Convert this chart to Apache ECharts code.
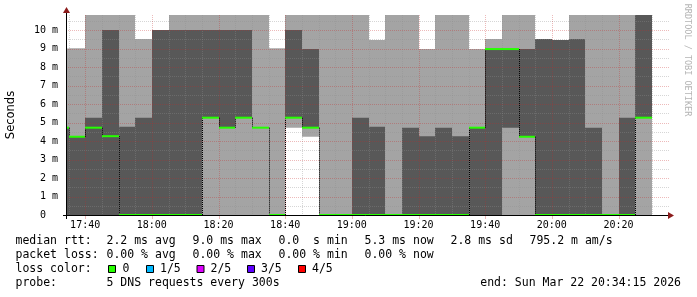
<!DOCTYPE html>
<html><head><meta charset="utf-8">
<script src="https://cdn.jsdelivr.net/npm/echarts@6/dist/echarts.min.js"></script>
<style>html,body{margin:0;padding:0;background:#fff}#c{width:697px;height:297px}</style>
</head><body><div id="c"></div>
<script>
// ---------------- data (minutes after 17:00, values in ms) ----------------
const OFF = 12; // off-scale (clipped at top of graph)
const binStartMin = [30,35,40,45,50,55,60,65,70,75,80,85,90,95,100,105,110,115,120,125,130,135,140,145,150,155,160,165,170,175,180,185,190,195,200,205];
const binLength = 5;
// five sorted ping values per bin (ms)
const ping1 = [0,0,0,0,0,0,0,0,0,0,0,0,0,0,4.72,4.23,0,0,0,0,0,0,0,0,0,0,0,0,0,0,0,0,0,0,0,0];
const ping2 = [0,0,0,0,0,0,0,0,0,5.26,4.72,5.26,4.72,0,5.26,4.72,0,0,0,0,0,0,0,0,0,0,0,4.72,4.23,0,0,0,0,0,0,5.26];
const ping3 = [4.72,4.23,4.72,4.26,0,0,0,0,0,5.26,4.72,5.26,4.72,0,5.26,4.72,0,0,0,0,0,0,0,0,0,4.72,8.97,8.97,4.23,0,0,0,0,0,0,5.26]; // median
const ping4 = [4.72,4.23,5.26,10,4.77,5.26,10,10,10,10,10,10,4.72,0,10,8.97,0,0,5.26,4.77,0,4.72,4.26,4.72,4.26,4.72,8.97,8.97,8.97,9.51,9.46,9.51,4.72,0,5.26,OFF];
const ping5 = [9.0,9.01,OFF,OFF,OFF,9.51,10,OFF,OFF,OFF,OFF,OFF,OFF,9.01,OFF,OFF,OFF,OFF,OFF,9.46,OFF,OFF,8.97,OFF,OFF,8.97,9.51,OFF,OFF,9.51,9.46,OFF,OFF,OFF,OFF,OFF];

const xTickMin = [40,60,80,100,120,140,160,180,200];
const xTickLabels = ['17:40','18:00','18:20','18:40','19:00','19:20','19:40','20:00','20:20'];
const xMinorMin = [35,45,50,55,65,70,75,85,90,95,105,110,115,125,130,135,145,150,155,165,170,175,185,190,195,205,210];
const yTicks = [0,1,2,3,4,5,6,7,8,9,10];
const yTickLabels = ['0  ','1 m','2 m','3 m','4 m','5 m','6 m','7 m','8 m','9 m','10 m'];
const yMinor = [0.5,1.5,2.5,3.5,4.5,5.5,6.5,7.5,8.5,9.5,10.5];

const statsRtt = ['median rtt:','2.2 ms avg','9.0 ms max','0.0  s min','5.3 ms now','2.8 ms sd','795.2 m am/s'];
const statsLoss = ['packet loss:','0.00 % avg','0.00 % max','0.00 % min','0.00 % now'];
const lossLabels = ['0','1/5','2/5','3/5','4/5'];
const lossColors = ['#26ff00','#00b8ff','#dd00ff','#5e00ff','#ff0000'];
const probeText = ['probe:','5 DNS requests every 300s'];
const endText = 'end: Sun Mar 22 20:34:15 2026';

// ---------------- layout / style ----------------
const X_MIN = 34.25, X_MAX = 214.25;
const Y_MAX = 200/18.5;
const LIGHT = '#a4a4a4', DARK = '#585858';
const MINOR = 'rgba(140,140,140,0.36)', MAJOR = 'rgba(200,40,40,0.32)';
const MONO = '"DejaVu Sans Mono", monospace';
const LFONT = '11.5px ' + MONO;

const smokeData = binStartMin.map((s,i)=>[s, s+binLength, ping1[i], ping2[i], ping3[i], ping4[i], ping5[i]]);

function binX(params, api){
  const cs = params.coordSys;
  const x0 = Math.round(api.coord([api.value(0),0])[0]);
  const x1 = Math.round(api.coord([api.value(1),0])[0]);
  return {x0, xl: Math.max(x0, cs.x), xr: Math.min(x1, cs.x+cs.width), cs};
}
const yv = (api, v) => api.coord([X_MIN, Math.min(v, Y_MAX)])[1];

function renderSmoke(params, api){
  const {xl, xr} = binX(params, api);
  if (xr <= xl) return {type:'group', children:[]};
  const yp1 = yv(api, api.value(2)), yp2 = yv(api, api.value(3)), yp4 = yv(api, api.value(5)), yp5 = yv(api, api.value(6));
  return {type:'group', children:[
    {type:'rect', shape:{x:xl, y:yp5, width:xr-xl, height:yp1-yp5}, style:{fill:LIGHT}},
    {type:'rect', shape:{x:xl, y:yp4, width:xr-xl, height:yp2-yp4}, style:{fill:DARK}}
  ]};
}
function renderMedian(params, api){
  const {x0, xl, xr, cs} = binX(params, api);
  if (xr <= xl) return {type:'group', children:[]};
  const i = params.dataIndex;
  const ym = yv(api, api.value(4));
  const ch = [];
  if (i > 0 && x0 >= cs.x) {
    const yprev = yv(api, ping3[i-1]);
    if (Math.abs(yprev - ym) > 0.5) ch.push({type:'line', shape:{x1:x0+0.5, y1:yprev, x2:x0+0.5, y2:ym}, style:{stroke:'#000', lineWidth:1, lineDash:[1,1]}});
  }
  ch.push({type:'rect', shape:{x:xl, y:ym-1, width:xr-xl, height:2}, style:{fill:lossColors[0]}});
  return {type:'group', children:ch};
}
function renderGrid(params, api){
  const cs = params.coordSys;
  const ch = [];
  const top = cs.y, bot = cs.y + cs.height, left = cs.x, right = cs.x + cs.width + 3;
  const vline = (m, col) => { const x = Math.round(api.coord([m,0])[0]) + 0.5;
    ch.push({type:'line', shape:{x1:x, y1:top, x2:x, y2:bot}, style:{stroke:col, lineWidth:1, lineDash:[1,1]}}); };
  const hline = (v, col) => { const y = Math.round(api.coord([X_MIN,v])[1]) + 0.5;
    ch.push({type:'line', shape:{x1:left, y1:y, x2:right, y2:y}, style:{stroke:col, lineWidth:1, lineDash:[1,1]}}); };
  xMinorMin.forEach(m => vline(m, MINOR));
  yMinor.forEach(v => hline(v, MINOR));
  xTickMin.forEach(m => vline(m, MAJOR));
  yTicks.forEach(v => { if (v > 0) hline(v, MAJOR); });
  xTickMin.forEach(m => { const x = Math.round(api.coord([m,0])[0]) + 0.5;
    ch.push({type:'line', shape:{x1:x, y1:bot, x2:x, y2:bot+4}, style:{stroke:MAJOR, lineWidth:1}}); });
  return {type:'group', children:ch};
}

// legend graphics
const g = [];
const rowY = [241, 255.3, 269.3, 283.5];
const rttX = [15.5,106.5,192.5,278.5,364.5,450.5,529.5];
statsRtt.forEach((t,i)=>g.push({type:'text', x:rttX[i], y:rowY[0], style:{text:t, font:LFONT, fill:'#000', verticalAlign:'middle'}}));
statsLoss.forEach((t,i)=>g.push({type:'text', x:rttX[i], y:rowY[1], style:{text:t, font:LFONT, fill:'#000', verticalAlign:'middle'}}));
g.push({type:'text', x:15.5, y:rowY[2], style:{text:'loss color:', font:LFONT, fill:'#000', verticalAlign:'middle'}});
const boxX = [108.5,146.5,197,247.5,298.5];
const lblX = [122.5,160,210.5,261,312];
lossLabels.forEach((t,i)=>{
  g.push({type:'rect', shape:{x:boxX[i], y:265.5, width:7, height:7}, style:{fill:lossColors[i], stroke:'#000', lineWidth:1}});
  g.push({type:'text', x:lblX[i], y:rowY[2], style:{text:t, font:LFONT, fill:'#000', verticalAlign:'middle'}});
});
g.push({type:'text', x:15.5, y:rowY[3], style:{text:probeText[0], font:LFONT, fill:'#000', verticalAlign:'middle'}});
g.push({type:'text', x:106.5, y:rowY[3], style:{text:probeText[1], font:LFONT, fill:'#000', verticalAlign:'middle'}});
g.push({type:'text', x:681, y:rowY[3], style:{text:endText, font:LFONT, fill:'#000', verticalAlign:'middle', align:'right'}});
// watermark
g.push({type:'text', x:687.5, y:60, rotation:-Math.PI/2, style:{text:'RRDTOOL / TOBI OETIKER', font:'8.5px '+MONO, fill:'#b4b4b4', align:'center', verticalAlign:'middle'}});
// axes lines & arrows
g.push({type:'line', z:100, shape:{x1:63, y1:215.5, x2:668, y2:215.5}, style:{stroke:'#000', lineWidth:1}});
g.push({type:'line', z:100, shape:{x1:66.5, y1:219, x2:66.5, y2:13}, style:{stroke:'#000', lineWidth:1}});
g.push({type:'polygon', z:100, shape:{points:[[668,212],[668,219],[674,215.5]]}, style:{fill:'#8c1c1c'}});
g.push({type:'polygon', z:100, shape:{points:[[63,13],[70,13],[66.5,7]]}, style:{fill:'#8c1c1c'}});

const chart = echarts.init(document.getElementById('c'), null, {renderer:'canvas'});
chart.setOption({
  animation:false,
  backgroundColor:'#fff',
  grid:{left:66, top:15, width:600, height:200, containLabel:false, outerBoundsMode:'none'},
  xAxis:{type:'value', min:X_MIN, max:X_MAX, splitNumber:9,
    axisLine:{show:false}, axisTick:{show:false}, splitLine:{show:false},
    axisLabel:{customValues:xTickMin, fontFamily:MONO, fontSize:10, color:'#000', margin:5,
      formatter:v=>{const k=xTickMin.indexOf(Math.round(v)); return k>=0?xTickLabels[k]:'';}}},
  yAxis:{type:'value', min:0, max:Y_MAX, interval:1,
    name:'Seconds', nameLocation:'middle', nameGap:49, nameRotate:90,
    nameTextStyle:{fontFamily:'"DejaVu Sans", sans-serif', fontSize:11.5, color:'#000'},
    axisLine:{show:false}, axisTick:{show:false}, splitLine:{show:false},
    axisLabel:{customValues:yTicks, fontFamily:MONO, fontSize:10, color:'#000', margin:8,
      formatter:v=>{const k=yTicks.indexOf(Math.round(v)); return (k>=0 && Math.abs(v-Math.round(v))<1e-6)?yTickLabels[k]:'';}}},
  series:[
    {type:'custom', z:2, renderItem:renderSmoke, data:smokeData, encode:{x:[0,1], y:[2,3,4,5,6]}, silent:true},
    {type:'custom', z:3, renderItem:renderGrid, data:[[X_MIN,0]], encode:{x:0,y:1}, silent:true},
    {type:'custom', z:4, renderItem:renderMedian, data:smokeData, encode:{x:[0,1], y:[2,3,4,5,6]}, silent:true}
  ],
  graphic:g
});
</script></body></html>
